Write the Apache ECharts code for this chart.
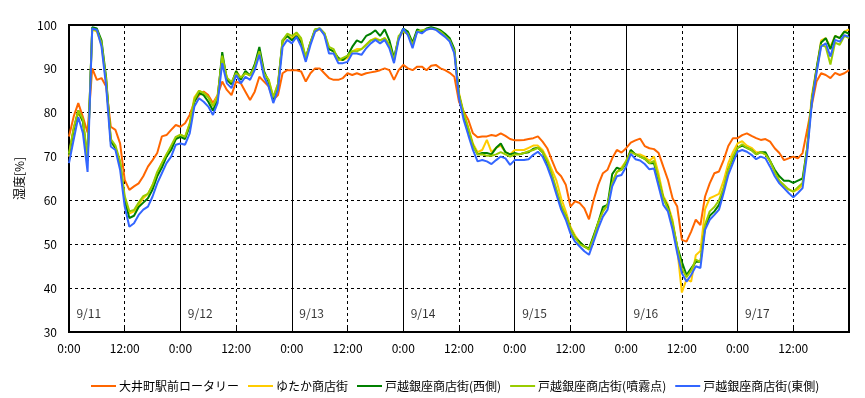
<!DOCTYPE html>
<html>
<head>
<meta charset="utf-8">
<script src="https://cdn.jsdelivr.net/npm/echarts@6/dist/echarts.min.js"></script>
<style>
  html, body { margin: 0; padding: 0; background: #fff; }
  #main { width: 865px; height: 398px; }
</style>
</head>
<body>
<div id="main"></div>
<script>
// 1時間ごとの湿度 (9/11 0:00 ～ 9/18 0:00)
var seriesNames = ['大井町駅前ロータリー', 'ゆたか商店街', '戸越銀座商店街(西側)', '戸越銀座商店街(噴霧点)', '戸越銀座商店街(東側)'];
var dayLabels = ['9/11', '9/12', '9/13', '9/14', '9/15', '9/16', '9/17'];
var yTicks = [30, 40, 50, 60, 70, 80, 90, 100];

var oimachi = [
  74.6, 79.1, 82.2, 79.0, 75.5, 90.1, 87.5, 87.9, 86.0, 76.8, 76.1, 73.0, 64.7, 62.4, 63.2, 63.9, 65.5, 67.7, 69.2, 70.8, 74.6, 74.9, 76.1, 77.2,
  76.8, 77.6, 79.5, 82.5, 84.0, 84.8, 84.0, 82.2, 84.0, 87.1, 85.2, 84.0, 87.1, 86.7, 84.8, 82.9, 84.8, 88.2, 87.1, 86.0, 82.9, 84.0, 89.0, 89.7,
  89.7, 89.7, 89.4, 87.1, 89.0, 90.1, 90.1, 89.0, 87.9, 87.5, 87.5, 87.9, 89.0, 88.6, 89.0, 88.6, 89.0, 89.2, 89.4, 89.7, 90.1, 89.7, 87.5, 89.7,
  90.9, 90.1, 89.7, 90.5, 90.5, 89.7, 90.7, 90.9, 90.1, 89.7, 89.1, 88.2, 82.5, 80.3, 78.4, 75.3, 74.4, 74.6, 74.6, 74.9, 74.7, 75.3, 74.7, 74.0,
  73.7, 73.7, 73.8, 74.0, 74.2, 74.6, 73.4, 71.9, 69.2, 66.6, 65.5, 63.6, 58.6, 59.8, 59.4, 58.2, 55.7, 60.1, 63.6, 66.2, 67.0, 69.6, 71.5, 70.9,
  71.9, 73.2, 73.7, 74.1, 72.4, 71.9, 71.7, 70.8, 67.7, 64.7, 60.5, 58.6, 51.0, 50.6, 52.9, 55.6, 54.4, 60.9, 63.9, 66.2, 66.6, 69.2, 72.4, 74.2,
  74.2, 74.9, 75.3, 74.7, 74.2, 73.8, 74.0, 73.4, 71.9, 70.8, 69.2, 69.6, 70.0, 69.6, 70.8, 76.1, 81.8, 87.1, 89.0, 88.6, 87.9, 89.1, 88.6, 89.0, 89.7
];
var yutaka = [
  70.0, 76.5, 80.0, 78.0, 69.0, 99.0, 98.5, 95.5, 87.0, 73.5, 72.0, 68.5, 60.5, 57.0, 57.5, 59.0, 60.5, 61.5, 63.5, 66.0, 68.5, 70.5, 72.0, 74.0,
  75.0, 74.5, 77.5, 83.5, 85.0, 84.5, 83.5, 81.5, 84.0, 92.5, 88.0, 86.5, 89.5, 88.0, 89.0, 88.5, 90.5, 94.0, 89.0, 87.5, 83.5, 86.5, 96.0, 97.5,
  97.0, 98.0, 96.5, 92.5, 96.0, 98.5, 99.0, 98.0, 94.5, 94.0, 92.0, 92.0, 92.5, 94.0, 94.5, 94.5, 95.5, 96.5, 97.0, 96.5, 97.0, 95.5, 92.0, 97.0,
  98.5, 98.0, 95.5, 98.8, 98.5, 99.0, 99.2, 99.0, 98.5, 97.5, 96.5, 94.0, 84.5, 80.0, 76.5, 73.0, 71.0, 71.5, 73.8, 71.0, 72.0, 72.5, 71.0, 70.5,
  71.5, 71.5, 71.5, 72.0, 72.5, 72.5, 71.5, 69.5, 67.0, 64.5, 60.5, 57.5, 54.0, 52.0, 50.5, 49.5, 49.0, 51.5, 55.0, 57.5, 59.0, 64.0, 66.5, 67.5,
  69.0, 71.5, 70.5, 70.5, 70.0, 69.0, 70.0, 66.0, 61.0, 59.0, 55.5, 49.0, 39.0, 42.0, 41.5, 47.5, 48.5, 58.0, 60.5, 61.0, 61.5, 64.5, 68.5, 71.0,
  73.0, 73.5, 72.5, 72.0, 71.0, 71.0, 70.5, 69.0, 66.5, 64.5, 63.0, 62.5, 62.0, 62.5, 63.5, 72.0, 84.0, 90.0, 96.5, 97.0, 95.0, 97.5, 97.0, 98.5, 99.0
];
var togoshiWest = [
  70.5, 76.0, 80.5, 78.0, 69.0, 99.5, 99.2, 96.5, 88.0, 73.5, 72.0, 68.5, 60.0, 56.0, 56.5, 58.5, 59.5, 60.5, 62.5, 65.5, 67.5, 70.0, 71.5, 74.0,
  74.5, 74.0, 77.0, 82.5, 84.5, 84.0, 82.5, 80.5, 83.0, 93.8, 87.5, 86.5, 89.5, 87.5, 89.5, 88.5, 91.0, 95.0, 89.5, 87.0, 83.0, 86.0, 96.5, 97.5,
  96.5, 97.5, 96.0, 92.5, 96.0, 99.0, 99.2, 98.0, 94.5, 94.0, 92.5, 92.0, 93.0, 95.0, 96.5, 96.0, 97.5, 98.0, 98.8, 97.5, 99.0, 96.5, 92.5, 97.0,
  99.2, 98.5, 96.0, 99.0, 98.5, 99.2, 99.5, 99.2, 98.8, 98.0, 97.0, 94.5, 84.0, 79.5, 76.0, 72.5, 70.5, 70.8, 70.8, 70.5, 72.0, 73.0, 71.0, 70.5,
  70.8, 70.5, 70.8, 71.0, 71.8, 72.0, 71.0, 68.5, 65.5, 62.0, 58.5, 56.5, 53.5, 51.5, 50.5, 49.5, 49.0, 52.0, 55.0, 58.5, 59.0, 66.0, 67.5, 67.0,
  68.5, 71.5, 70.5, 70.0, 69.5, 68.5, 68.5, 64.5, 60.5, 58.5, 54.5, 49.5, 46.0, 43.0, 44.5, 46.0, 46.0, 54.0, 56.5, 57.5, 59.0, 62.5, 67.0, 69.5,
  72.0, 72.5, 72.0, 71.5, 70.5, 71.0, 71.0, 69.0, 67.0, 65.5, 64.5, 64.5, 64.0, 64.5, 65.0, 72.0, 83.0, 90.0, 96.0, 97.0, 94.5, 97.5, 97.0, 98.5, 98.0
];
var togoshiMist = [
  70.7, 76.5, 80.5, 78.5, 69.5, 99.0, 98.8, 96.0, 87.5, 74.0, 72.5, 69.0, 61.0, 57.5, 57.8, 59.5, 61.0, 61.5, 63.5, 66.5, 68.5, 70.5, 72.5, 74.5,
  75.0, 74.5, 77.5, 83.0, 85.0, 84.5, 83.5, 81.5, 83.5, 93.0, 88.0, 87.0, 89.0, 88.0, 89.0, 88.5, 90.5, 94.0, 89.0, 87.5, 83.5, 86.5, 96.5, 98.0,
  97.5, 98.3, 97.0, 92.5, 96.0, 99.0, 99.2, 98.2, 95.0, 94.5, 92.0, 92.5, 93.0, 94.0, 94.0, 94.5, 95.5, 96.5, 96.8, 96.5, 97.0, 95.5, 92.0, 97.5,
  98.5, 98.0, 95.5, 98.5, 98.8, 99.0, 99.2, 99.0, 98.5, 97.5, 96.5, 94.0, 84.0, 80.0, 76.5, 72.5, 70.5, 70.5, 70.2, 70.2, 70.5, 71.0, 70.5, 70.0,
  70.5, 70.5, 70.8, 71.2, 71.5, 72.0, 71.0, 69.0, 66.0, 62.5, 59.0, 56.5, 53.5, 51.5, 50.0, 49.5, 48.8, 51.5, 55.0, 57.5, 59.0, 64.0, 66.5, 67.0,
  69.0, 71.0, 70.5, 70.0, 69.5, 68.5, 69.0, 65.0, 60.5, 58.0, 55.0, 49.5, 44.5, 42.5, 44.0, 46.5, 46.0, 54.5, 57.5, 58.5, 60.0, 63.0, 67.0, 70.0,
  72.0, 72.8, 72.0, 71.5, 70.5, 71.0, 70.5, 69.0, 66.5, 64.5, 63.5, 62.5, 62.0, 63.0, 64.0, 72.0, 83.0, 89.5, 95.5, 95.0, 91.0, 96.0, 95.5, 97.5, 97.0
];
var togoshiEast = [
  68.5, 73.8, 79.0, 75.3, 66.5, 99.2, 98.9, 95.1, 86.0, 72.3, 71.5, 67.0, 58.6, 54.0, 54.8, 56.7, 57.9, 58.6, 60.9, 63.9, 66.2, 68.5, 70.0, 72.7,
  73.0, 72.7, 75.3, 81.4, 83.3, 82.5, 81.4, 79.5, 82.2, 91.3, 86.7, 85.6, 88.6, 86.7, 88.2, 87.5, 89.7, 93.2, 88.2, 86.0, 82.2, 85.2, 95.0, 96.6,
  95.8, 97.3, 95.1, 91.6, 95.4, 98.5, 99.2, 97.7, 93.5, 93.5, 91.3, 91.3, 91.6, 93.5, 93.5, 93.2, 94.7, 95.8, 96.6, 95.8, 96.6, 94.7, 91.3, 96.6,
  99.2, 97.7, 94.7, 98.5, 98.1, 98.9, 99.2, 98.9, 98.1, 97.3, 96.2, 93.5, 83.3, 78.4, 74.9, 71.5, 68.9, 69.2, 68.9, 68.3, 69.2, 70.0, 69.6, 68.1,
  69.2, 69.2, 69.2, 69.4, 70.4, 71.1, 70.0, 67.7, 64.8, 61.3, 57.9, 55.6, 52.5, 50.6, 49.5, 48.4, 47.6, 50.6, 53.7, 56.3, 57.9, 63.2, 65.5, 65.8,
  67.7, 70.6, 69.4, 69.1, 68.3, 67.1, 67.3, 63.2, 59.0, 57.5, 53.3, 48.0, 43.4, 41.5, 43.0, 45.0, 44.6, 53.3, 55.6, 56.7, 57.9, 61.7, 65.8, 68.5,
  71.1, 71.5, 71.1, 70.4, 69.4, 70.0, 69.6, 67.7, 65.5, 63.9, 62.8, 61.7, 60.7, 61.7, 62.8, 70.8, 82.2, 89.0, 95.1, 95.8, 92.8, 96.6, 96.2, 97.7, 97.3
];

var colors = ['#FF6600', '#FFCC00', '#008000', '#99CC00', '#3366FF'];
var allData = [oimachi, yutaka, togoshiWest, togoshiMist, togoshiEast];
var font = '"Noto Sans CJK JP", sans-serif';

var myChart = echarts.init(document.getElementById('main'));

function toPairs(arr) {
  return arr.map(function (v, i) { return [i, v]; });
}

var series = allData.map(function (arr, i) {
  return {
    name: seriesNames[i],
    type: 'line',
    data: toPairs(arr),
    showSymbol: false,
    symbol: 'none',
    lineStyle: { color: colors[i], width: 2 },
    itemStyle: { color: colors[i] },
    animation: false
  };
});

// 日付ラベル (グラフ内の下部)
series.push({
  name: 'days',
  type: 'scatter',
  symbolSize: 0,
  silent: true,
  data: dayLabels.map(function (d, i) { return [24 * i + 1.6, 34.2]; }),
  label: {
    show: true,
    position: 'right',
    distance: 0,
    color: '#000',
    fontSize: 12,
    fontFamily: font,
    formatter: function (p) { return dayLabels[p.dataIndex]; }
  },
  animation: false
});

var option = {
  backgroundColor: '#fff',
  textStyle: { fontFamily: font },
  grid: {
    left: 69, right: 16, top: 25, bottom: 66,
    show: true,
    borderColor: '#000',
    borderWidth: 2,
    backgroundColor: 'transparent'
  },
  legend: {
    data: seriesNames,
    left: 86,
    top: 375,
    itemWidth: 25,
    itemHeight: 2,
    itemGap: 9,
    icon: 'rect',
    textStyle: { fontSize: 12, color: '#000', fontFamily: font, padding: [0, 0, 0, -2] }
  },
  xAxis: [
    {
      type: 'value',
      min: 0,
      max: 168,
      interval: 12,
      axisLine: { show: false },
      axisTick: { show: true, inside: true, length: 4, lineStyle: { color: '#000' } },
      axisLabel: {
        color: '#000',
        fontSize: 12,
        margin: 10,
        showMaxLabel: false,
        formatter: function (v) { return v % 24 === 0 ? '0:00' : '12:00'; }
      },
      splitLine: { show: true, lineStyle: { color: '#000', type: [3, 3], width: 1 } }
    },
    {
      type: 'value',
      min: 0,
      max: 168,
      interval: 24,
      position: 'bottom',
      axisLine: { show: false },
      axisTick: { show: false },
      axisLabel: { show: false },
      splitLine: { show: true, lineStyle: { color: '#000', type: 'solid', width: 1 } }
    }
  ],
  yAxis: {
    type: 'value',
    min: yTicks[0],
    max: yTicks[yTicks.length - 1],
    interval: 10,
    name: '湿度[%]',
    nameLocation: 'middle',
    nameGap: 44,
    nameRotate: 90,
    nameTextStyle: { color: '#000', fontSize: 12, fontFamily: font },
    axisLine: { show: false },
    axisTick: { show: false },
    axisLabel: { color: '#000', fontSize: 12, margin: 12 },
    splitLine: { show: true, lineStyle: { color: '#000', type: [3, 3], width: 1 } }
  },
  series: series
};

myChart.setOption(option);
</script>
</body>
</html>
